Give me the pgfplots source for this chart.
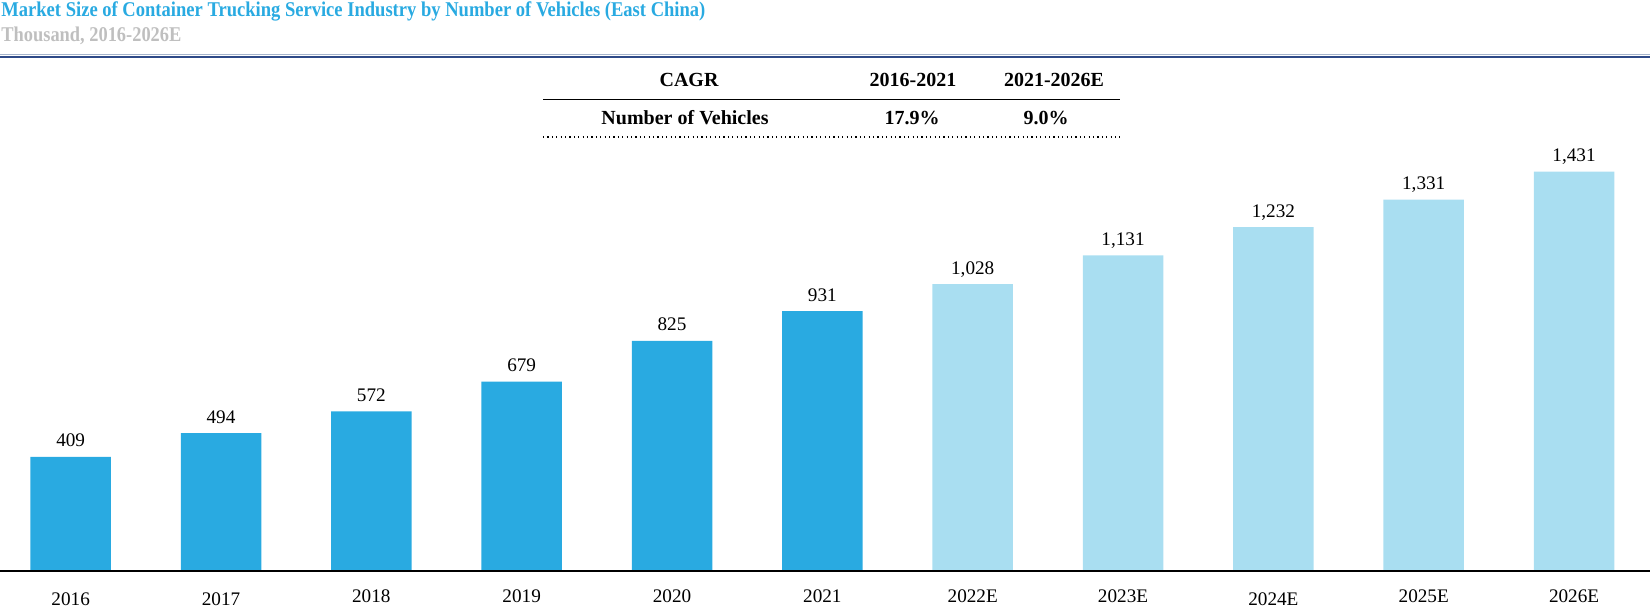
\documentclass[border=0pt]{standalone}
\usepackage{pgfplots}
\pgfplotsset{compat=1.18}
\usepackage{fontspec}
\setmainfont{Liberation Serif}
\definecolor{darkblue}{HTML}{29AAE1}
\definecolor{lightblue}{HTML}{A9DEF1}
\definecolor{titleblue}{HTML}{29AAE1}
\definecolor{subgray}{HTML}{BFBFBF}
\definecolor{navy}{HTML}{2E4A87}
\definecolor{rulelight}{HTML}{A5B4CC}
\begin{document}
\begin{tikzpicture}
\useasboundingbox (0,0) rectangle (825pt,305pt);
% title and subtitle
\node[anchor=base west, inner sep=0pt, text=titleblue, font=\bfseries\fontsize{10.5}{12}\selectfont] at (0.5pt,296.5pt) {\resizebox{352pt}{\height}{Market Size of Container Trucking Service Industry by Number of Vehicles (East China)}};
\node[anchor=base west, inner sep=0pt, text=subgray, font=\bfseries\fontsize{10.5}{12}\selectfont] at (0.5pt,284pt) {\resizebox{90pt}{\height}{Thousand, 2016-2026E}};
\draw[rulelight, line width=0.5pt] (0pt,277.5pt) -- (825pt,277.5pt);
\draw[navy, line width=0.9pt] (0pt,276.6pt) -- (825pt,276.6pt);
% CAGR table
\begin{scope}[every node/.style={anchor=base, inner sep=0pt, font=\bfseries\fontsize{10}{12}\selectfont}]
\node at (344.5pt,261.5pt) {CAGR};
\node at (456.5pt,261.5pt) {2016-2021};
\node at (527pt,261.5pt) {2021-2026E};
\node at (342.5pt,242.5pt) {Number of Vehicles};
\node at (456pt,242.5pt) {17.9\%};
\node at (523pt,242.5pt) {9.0\%};
\end{scope}
\draw[black, line width=0.65pt] (271.5pt,255.25pt) -- (560pt,255.25pt);
\draw[black, line width=0.6pt, dash pattern=on 0.6pt off 1.6pt] (271.5pt,236.5pt) -- (560pt,236.5pt);
\begin{axis}[
  at={(0pt,19.5pt)}, anchor=south west,
  scale only axis, width=825pt, height=250pt,
  xmin=-0.47, xmax=10.505, ymin=0, ymax=1792,
  axis x line=bottom, axis y line=none,
  axis line style={-, black, line width=0.75pt},
  axis on top,
  xtick={0,1,2,3,4,5,6,7,8,9,10},
  xticklabels={\raisebox{-1.5pt}{2016},\raisebox{-1.5pt}{2017},2018,2019,2020,2021,2022E,2023E,\raisebox{-1.5pt}{2024E},2025E,2026E},
  major tick length=0pt,
  xticklabel style={anchor=base, yshift=-16pt, inner sep=0pt, font=\fontsize{9.6}{11}\selectfont},
  ytick=\empty,
  ybar, bar width=40.25pt,
  nodes near coords,
  every node near coord/.append style={anchor=base, yshift=5pt, inner sep=0pt, text=black, font=\fontsize{9.6}{11}\selectfont},
  clip=false,
  /pgf/number format/fixed,
  /pgf/number format/1000 sep={,},
  /pgf/number format/assume math mode=true,
]
\addplot[fill=darkblue, draw=none, bar shift=0pt] coordinates {(0,409) (1,494) (2,572) (3,679) (4,825) (5,931)};
\addplot[fill=lightblue, draw=none, bar shift=0pt] coordinates {(6,1028) (7,1131) (8,1232) (9,1331) (10,1431)};
\end{axis}
\end{tikzpicture}
\end{document}
